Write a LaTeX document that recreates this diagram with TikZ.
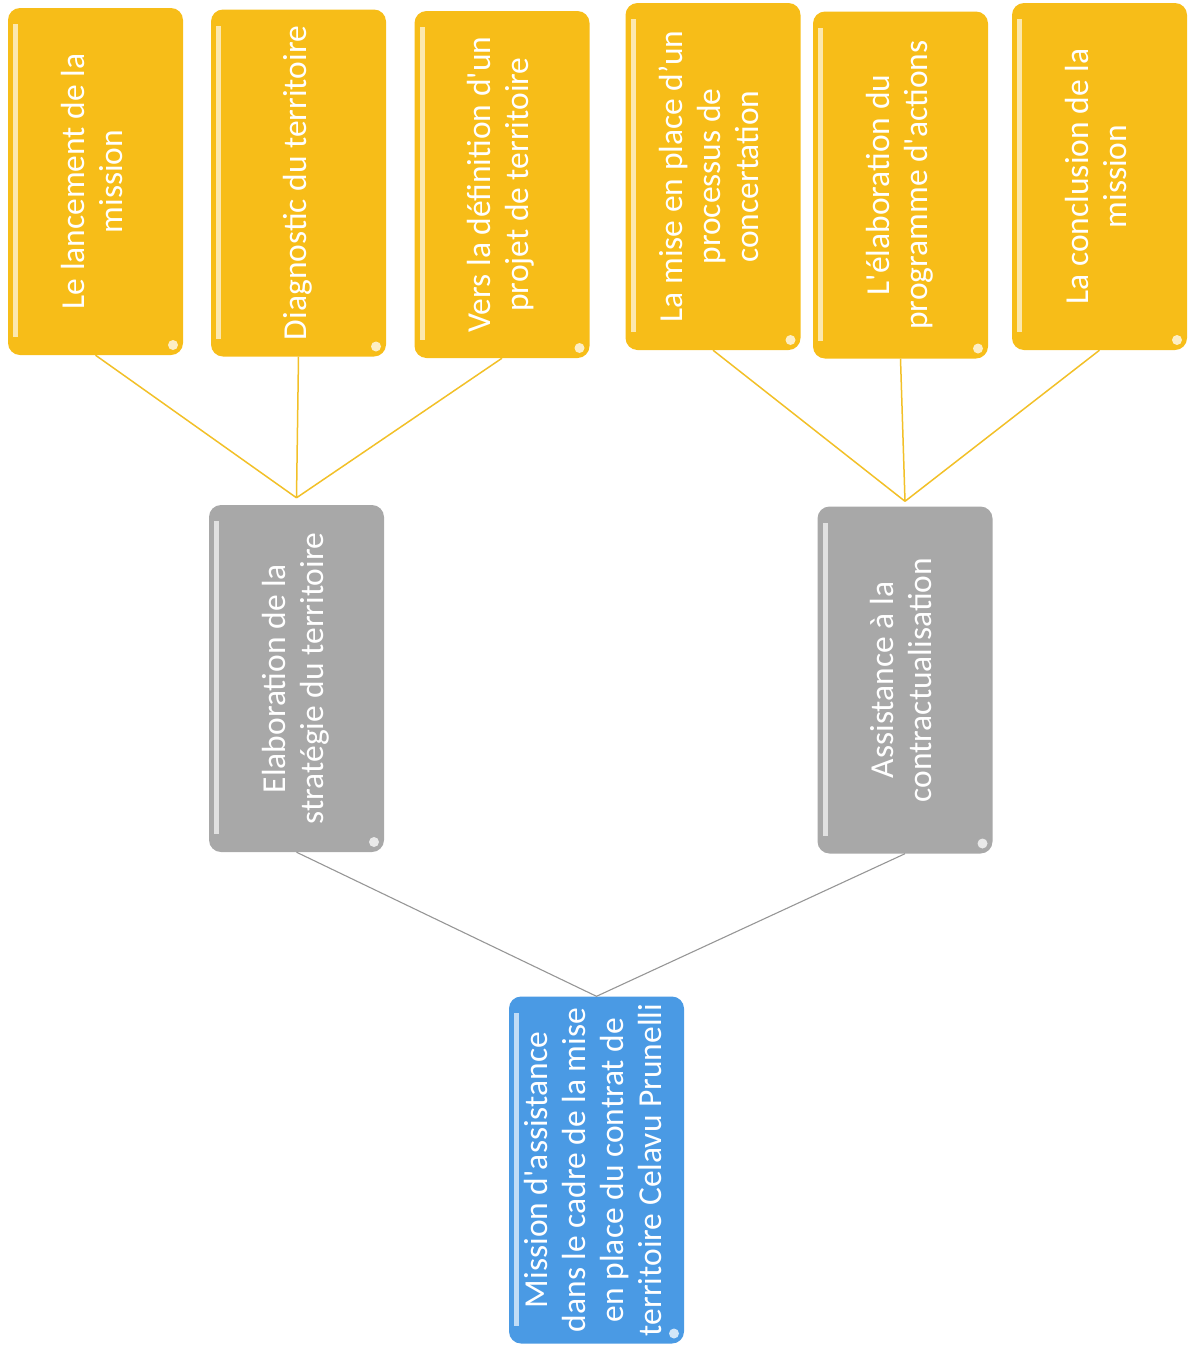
\documentclass[tikz,border=0pt]{standalone}
\usepackage{fontspec}
\setmainfont{Carlito}
\usetikzlibrary{positioning}
\definecolor{jaune}{RGB}{247,189,24}
\definecolor{gris}{RGB}{168,168,168}
\definecolor{bleu}{RGB}{74,154,228}
\definecolor{traitjaune}{RGB}{242,192,40}
\definecolor{traitgris}{RGB}{150,150,150}
\newcommand{\vlines}[1]{\rotatebox{90}{\begin{tabular}{@{}c@{}}#1\end{tabular}}}
\tikzset{
        bloc/.style={
          rounded corners=12pt, fill=#1, text=white, inner sep=0pt,
          minimum width=175pt, minimum height=347pt,
          font=\fontsize{33.5}{38}\selectfont,
          path picture={
            \fill[sharp corners, #1!35!white] ([xshift=5pt,yshift=-16pt]path picture bounding box.north west)
              rectangle ([xshift=10pt,yshift=18pt]path picture bounding box.south west);
            \fill[#1!25!white] ([xshift=-10pt,yshift=10pt]path picture bounding box.south east) circle (5pt);
          }}, % glossy rounded box
        etape/.style={bloc=jaune},
        axe/.style={bloc=gris},
        mission/.style={bloc=bleu},
        lienjaune/.style={draw=traitjaune, line width=1.5pt},
        liengris/.style={draw=traitgris, line width=1.1pt},
    }
\begin{document}
\begin{tikzpicture}[x=1pt, y=-1pt]
    \useasboundingbox (0,0) rectangle (1188,1352);
    % etapes
    \node[etape] (lanc) at (95.5,181.5) {\vlines{Le lancement de la\\mission}};
    \node[etape] (diag) at (298.5,183) {\vlines{Diagnostic du territoire}};
    \node[etape] (vers) at (502,184.5) {\vlines{Vers la définition d\textquotesingle un\\projet de territoire}};
    \node[etape] (conc) at (713,176.5) {\vlines{La mise en place d’un\\processus de\\concertation}};
    \node[etape] (prog) at (900.5,185) {\vlines{L\textquotesingle élaboration du\\programme d\textquotesingle actions}};
    \node[etape] (fin) at (1099.5,176.5) {\vlines{La conclusion de la\\mission}};
    % axes
    \node[axe] (strat) at (296.5,678.5) {\vlines{Elaboration de la\\stratégie du territoire}};
    \node[axe] (contr) at (905,680) {\vlines{Assistance à la\\contractualisation}};
    % mission
    \node[mission] (assist) at (596.5,1170) {\vlines{Mission d\textquotesingle assistance\\dans le cadre de la mise\\en place du contrat de\\territoire Celavu Prunelli}};
    \draw[lienjaune]
      (lanc.south) -- ([yshift=7pt]strat.north)
      (diag.south) -- ([yshift=7pt]strat.north)
      (vers.south) -- ([yshift=7pt]strat.north)
      (conc.south) -- ([yshift=5pt]contr.north)
      (prog.south) -- ([yshift=5pt]contr.north)
      (fin.south) -- ([yshift=5pt]contr.north);
    \draw[liengris]
      (strat.south) -- (assist.north)
      (contr.south) -- (assist.north);
\end{tikzpicture}
\end{document}
